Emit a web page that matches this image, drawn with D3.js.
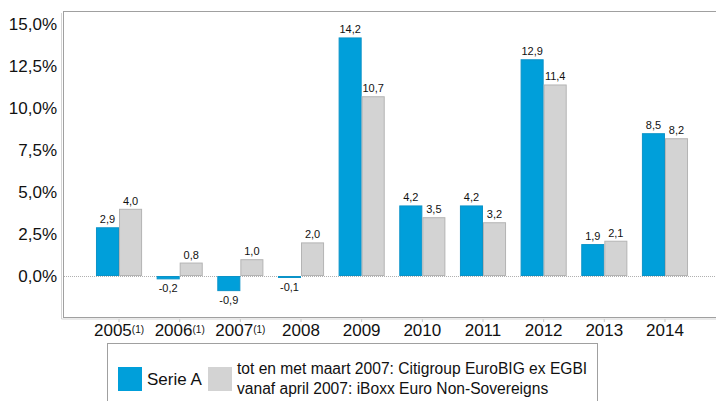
<!DOCTYPE html>
<html>
<head>
<meta charset="utf-8">
<script src="https://cdn.jsdelivr.net/npm/d3@7"></script>
<style>
  body { margin: 0; background: #fff; }
  svg { font-family: "Liberation Sans", Arial, sans-serif; }
</style>
</head>
<body>
<svg id="chart" width="716" height="401"></svg>
<script>
var years = ['2005', '2006', '2007', '2008', '2009', '2010', '2011', '2012', '2013', '2014'];
var footnoted = ['2005', '2006', '2007'];
var serieA = [2.9, -0.2, -0.9, -0.1, 14.2, 4.2, 4.2, 12.9, 1.9, 8.5];
var benchmark = [4.0, 0.8, 1.0, 2.0, 10.7, 3.5, 3.2, 11.4, 2.1, 8.2];
var yTicks = [0, 2.5, 5, 7.5, 10, 12.5, 15];
var seriesNames = ['Serie A', 'tot en met maart 2007: Citigroup EuroBIG ex EGBI', 'vanaf april 2007: iBoxx Euro Non-Sovereigns'];

var blue = '#009fda', grey = '#d3d3d3';

var svg = d3.select('#chart');

// plot frame
var frame = { left: 63, top: 11, right: 730, bottom: 317 };

var y = d3.scaleLinear()
  .domain([-2.5, 15])
  .range([318, 24]);

var x = d3.scaleBand()
  .domain(years)
  .range([88.7, 695.3])
  .paddingInner(0.24)
  .paddingOuter(0.12);

var x1 = d3.scaleBand()
  .domain(['a', 'b'])
  .range([0, x.bandwidth()]);

// frame with a light shadow
svg.append('line')
  .attr('x1', frame.left - 1.5).attr('x2', frame.left - 1.5)
  .attr('y1', frame.top + 2).attr('y2', frame.bottom + 2)
  .attr('stroke', '#d4d4d4');
svg.append('line')
  .attr('x1', frame.left - 1.5).attr('x2', frame.right)
  .attr('y1', frame.bottom + 2).attr('y2', frame.bottom + 2)
  .attr('stroke', '#d4d4d4');
svg.append('rect')
  .attr('x', frame.left + 0.5)
  .attr('y', frame.top + 0.5)
  .attr('width', frame.right - frame.left)
  .attr('height', frame.bottom - frame.top)
  .attr('fill', 'none')
  .attr('stroke', '#a0a0a0');

// zero line
svg.append('line')
  .attr('x1', frame.left + 1).attr('x2', frame.right)
  .attr('y1', Math.round(y(0)) + 0.5).attr('y2', Math.round(y(0)) + 0.5)
  .attr('stroke', '#b0b0b0')
  .attr('stroke-dasharray', '1,1');

// y labels
svg.append('g').selectAll('text')
  .data(yTicks)
  .enter().append('text')
  .attr('x', 57)
  .attr('y', function(d) { return y(d) + 6; })
  .attr('text-anchor', 'end')
  .attr('font-size', 17)
  .attr('fill', '#111')
  .text(function(d) { return d3.format('.1f')(d).replace('.', ',') + '%'; });

// x ticks and labels
svg.append('g').selectAll('line')
  .data(years)
  .enter().append('line')
  .attr('x1', function(d) { return x(d) + x.bandwidth() / 2; })
  .attr('x2', function(d) { return x(d) + x.bandwidth() / 2; })
  .attr('y1', frame.bottom + 2)
  .attr('y2', frame.bottom + 5)
  .attr('stroke', '#c8c8c8');

var xl = svg.append('g').selectAll('text')
  .data(years)
  .enter().append('text')
  .attr('x', function(d) { return x(d) + x.bandwidth() / 2; })
  .attr('y', 336)
  .attr('text-anchor', 'middle')
  .attr('font-size', 17)
  .attr('fill', '#111');
xl.append('tspan').text(function(d) { return d; });
xl.filter(function(d) { return footnoted.indexOf(d) >= 0; })
  .append('tspan')
  .attr('font-size', 10)
  .attr('dy', -3)
  .text('(1)');

// bars
var series = [
  { key: 'a', values: serieA, fill: blue, stroke: '#0b93c8' },
  { key: 'b', values: benchmark, fill: grey, stroke: '#b4b4b4' }
];

series.forEach(function(s) {
  var g = svg.append('g');
  var data = years.map(function(yr, i) { return { year: yr, value: s.values[i] }; });

  g.selectAll('rect')
    .data(data)
    .enter().append('rect')
    .attr('x', function(d) { return x(d.year) + x1(s.key) + 0.5; })
    .attr('y', function(d) { return y(Math.max(0, d.value)) + 0.5; })
    .attr('width', x1.bandwidth() - 1)
    .attr('height', function(d) { return Math.max(1, Math.abs(y(d.value) - y(0)) - 1); })
    .attr('fill', s.fill)
    .attr('stroke', s.stroke);

  g.selectAll('text')
    .data(data)
    .enter().append('text')
    .attr('x', function(d) { return x(d.year) + x1(s.key) + x1.bandwidth() / 2; })
    .attr('y', function(d) { return d.value >= 0 ? y(d.value) - 4 : y(d.value) + 13; })
    .attr('text-anchor', 'middle')
    .attr('font-size', 11)
    .attr('fill', '#111')
    .text(function(d) { return d3.format('.1f')(d.value).replace('.', ',').replace('−', '-'); });
});

// legend
var legend = svg.append('g');
legend.append('rect')
  .attr('x', 107.5).attr('y', 343.5)
  .attr('width', 490).attr('height', 70)
  .attr('fill', '#fff')
  .attr('stroke', '#a0a0a0');
legend.append('rect')
  .attr('x', 118).attr('y', 367)
  .attr('width', 24).attr('height', 24)
  .attr('fill', blue);
legend.append('text')
  .attr('x', 147).attr('y', 385)
  .attr('font-size', 17)
  .attr('fill', '#111')
  .text(seriesNames[0]);
legend.append('rect')
  .attr('x', 208).attr('y', 367)
  .attr('width', 24).attr('height', 24)
  .attr('fill', grey);
legend.append('text')
  .attr('x', 237).attr('y', 374)
  .attr('font-size', 15.6)
  .attr('fill', '#111')
  .text(seriesNames[1]);
legend.append('text')
  .attr('x', 237).attr('y', 394)
  .attr('font-size', 15.6)
  .attr('fill', '#111')
  .text(seriesNames[2]);
</script>
</body>
</html>
